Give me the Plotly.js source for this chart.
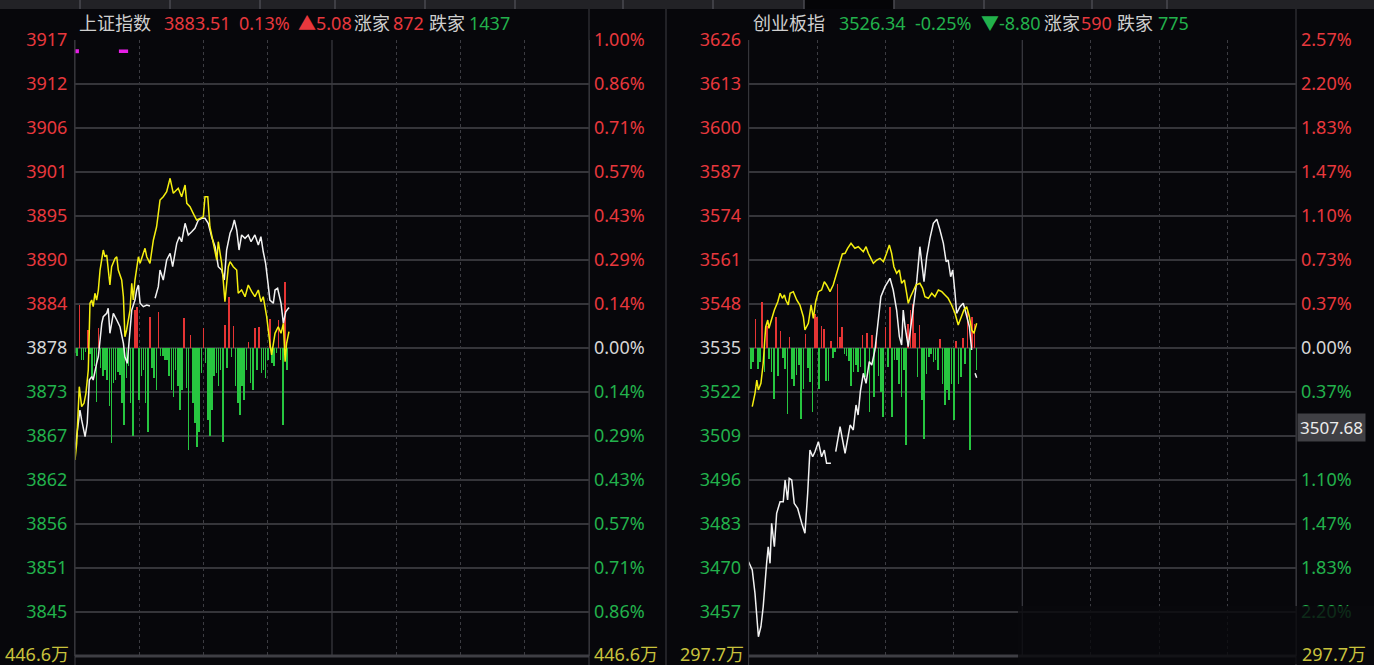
<!DOCTYPE html>
<html><head><meta charset="utf-8">
<script src="https://cdn.plot.ly/plotly-3.0.1.min.js"></script>
<style>html,body{margin:0;padding:0;background:#07070b;overflow:hidden}#chart{width:1374px;height:665px}</style>
</head><body><div id="chart"></div>
<script>
// ---------- data ----------
const leftName = '上证指数', rightName = '创业板指';
const leftPrevClose = 3878.43, rightPrevClose = 3535.14;
const leftLast = 3883.51, rightLast = 3526.34;
const leftMaxPct = 1.00, rightMaxPct = 2.57;
const leftTickLabels = ['3917','3912','3906','3901','3895','3890','3884','3878','3873','3867','3862','3856','3851','3845'];
const leftPctLabels = ['1.00%','0.86%','0.71%','0.57%','0.43%','0.29%','0.14%','0.00%','0.14%','0.29%','0.43%','0.57%','0.71%','0.86%'];
const rightTickLabels = ['3626','3613','3600','3587','3574','3561','3548','3535','3522','3509','3496','3483','3470','3457'];
// the 0.73% label below zero is hidden under the cursor price box in the reference
const rightPctLabels = ['2.57%','2.20%','1.83%','1.47%','1.10%','0.73%','0.37%','0.00%','0.37%','','1.10%','1.47%','1.83%','2.20%'];
const leftVolLabel = '446.6万', rightVolLabel = '297.7万';
const cursorLabel = '3507.68';

const leftWhiteT = [0,1.2,2.3,3.1,4.7,5.7,6.7,7.8,8.5,10.1,10.9,12.5,13.2,14.8,15.5,16.3,17.9,19.5,21.0,22.6,23.3,24.4,25.7,26.5,28.0,28.8,29.6,30.4,31.9,33.5,35.0,36.2,37.4,38.9,39.7,41.2,42.8,44.4,45.6,47.5,48.7,49.8,51.4,52.9,54.5,56.0,57.6,59.2,60.7,62.2,63.8,65.4,66.9,68.5,69.7,70.8,72.4,73.4,74.4,75.5,76.6,77.8,79.4,80.9,82.2,84.0,85.6,86.8,87.9,89.0,90.3,91.0,92.6,93.4,94.6,96.2,97.3,98.4,99.6,100];
const leftWhiteV = [3865.59,3868.11,3870.62,3869.37,3867.26,3868.95,3874.40,3874.82,3874.40,3876.50,3877.33,3881.54,3882.37,3882.80,3883.43,3880.28,3882.80,3881.96,3881.11,3879.02,3877.33,3876.50,3880.28,3883.21,3884.47,3885.73,3886.36,3884.06,3883.63,3883.84,3883.72,null,3884.69,3886.15,3888.25,3886.99,3889.51,3890.35,3888.67,3891.61,3892.44,3891.81,3894.13,3892.66,3893.07,3893.50,3894.55,3894.76,3894.76,3894.13,3892.44,3891.18,3888.67,3888.25,3886.99,3890.77,3892.87,3893.50,3894.55,3893.29,3890.77,3892.66,3892.24,3892.66,3891.81,3892.66,3891.40,3892.44,3890.55,3889.09,3886.15,3884.47,3884.06,3885.73,3885.95,3884.06,3881.54,3883.00,3883.43,3883.51];
const leftYellowT = [0,0.8,2.0,3.1,4.2,5.1,6.2,7.0,7.8,8.5,9.3,10.1,10.9,11.7,13.2,14.0,14.8,15.5,16.3,17.1,18.7,19.5,20.2,21.8,22.6,23.3,24.1,25.7,26.5,27.2,28.0,29.6,30.4,31.9,32.7,33.5,35.0,36.6,38.1,39.7,41.2,42.8,44.4,45.9,47.5,48.2,49.8,51.4,52.2,53.7,55.2,56.8,58.4,59.9,60.7,62.0,63.0,64.6,66.2,66.9,68.5,69.2,70.0,71.6,72.4,73.9,75.5,76.2,77.8,79.4,80.9,82.5,84.0,85.6,86.8,87.9,89.5,91.0,91.8,93.4,94.9,96.2,97.3,98.1,98.8,99.9];
const leftYellowV = [3864.33,3866.43,3873.56,3871.04,3871.47,3872.73,3875.66,3884.06,3884.47,3883.63,3885.32,3884.47,3885.73,3888.25,3890.77,3889.92,3890.14,3888.25,3886.36,3888.67,3889.72,3889.92,3888.25,3886.99,3884.89,3879.85,3880.70,3883.21,3886.58,3884.47,3886.99,3889.92,3889.09,3890.35,3890.98,3889.92,3889.09,3892.03,3893.70,3897.06,3897.48,3898.11,3899.80,3897.91,3898.32,3898.54,3897.48,3898.95,3896.65,3896.22,3895.39,3894.55,3894.76,3894.96,3897.48,3897.48,3893.70,3891.61,3889.51,3891.81,3889.09,3886.99,3884.26,3888.67,3889.30,3888.67,3888.25,3885.32,3885.73,3884.89,3886.36,3885.52,3884.89,3885.73,3884.26,3884.89,3882.37,3879.02,3877.55,3880.28,3881.11,3880.28,3881.54,3876.71,3879.02,3880.48];
const leftBars = [-0.63,-1.01,5.41,-1.51,-1.51,-0.50,2.27,-0.76,-3.65,-2.27,-6.80,2.52,-2.52,-3.53,-2.77,-4.03,-7.30,-11.96,-4.41,-4.03,-3.02,-3.40,-6.92,-9.69,-3.78,-2.27,-6.92,-11.08,4.78,5.16,-6.55,-3.53,-2.77,-6.92,-10.58,3.90,-2.52,-3.78,-5.29,4.53,-1.01,-1.01,-1.51,-1.51,-3.53,-5.29,-6.17,-2.77,-4.78,-7.81,-5.29,3.78,-5.04,-12.84,1.64,-6.92,-9.44,-12.46,-10.58,-3.15,2.52,-1.89,-9.06,-11.08,-7.81,-3.53,-3.15,-4.78,-2.77,-11.83,2.90,-2.52,6.42,-1.13,2.77,-4.78,-6.92,-8.44,-4.78,-6.55,-2.77,0.76,-4.41,-5.29,2.52,-2.77,2.64,-3.15,-2.77,-3.78,-1.51,3.65,-1.89,-2.27,-0.63,3.53,-1.51,-9.69,8.31,-2.77];

const rightWhiteT = [0,1.6,2.8,4.3,5.4,6.4,7.9,8.6,9.4,10.1,11.3,12.3,13.8,15.2,16.0,17.1,17.8,18.9,20.0,21.5,23.3,24.7,25.9,26.9,28.1,29.1,30.6,32.0,33.2,34.2,36.1,37.1,38.2,40.1,42.3,44.5,45.9,47.1,48.0,49.0,50.3,51.5,52.9,54.0,55.4,56.9,58.0,59.8,62.0,63.4,64.9,66.1,67.1,67.8,68.6,70.0,71.0,72.2,73.7,75.1,75.9,76.9,78.1,79.5,81.0,82.5,83.9,85.4,86.6,87.5,88.6,89.5,90.5,91.2,92.7,94.1,95.3,96.8,97.8,98.5,99.3,100.0];
const rightWhiteV = [3472.10,3469.65,3462.77,3449.97,3452.92,3458.82,3471.63,3476.52,3471.63,3483.43,3476.52,3486.38,3489.80,3489.80,3496.20,3490.30,3496.70,3496.20,3489.33,3487.85,3483.43,3480.48,3492.28,3505.05,3503.07,3504.55,3507.50,3503.07,3505.05,3501.13,3501.13,null,3504.55,3511.92,3504.08,3512.42,3510.95,3518.32,3515.37,3522.25,3527.68,3524.73,3531.10,3530.12,3534.55,3543.40,3550.27,3553.22,3555.70,3552.25,3546.35,3538.47,3536.03,3546.35,3541.42,3535.52,3540.45,3547.32,3554.70,3565.02,3561.10,3554.70,3562.07,3567.50,3571.93,3573.11,3569.95,3566.03,3560.60,3561.10,3556.17,3558.15,3551.28,3545.38,3547.32,3548.33,3545.38,3541.42,3534.55,null,3527.68,3526.34];
const rightYellowT = [1.6,2.8,3.6,4.3,5.4,6.4,7.5,8.4,8.9,10.1,11.3,12.8,13.8,14.8,15.7,16.3,17.4,18.2,19.6,21.1,22.5,24.0,24.7,26.2,27.4,28.4,29.4,30.6,32.0,33.2,34.2,35.7,37.1,38.6,40.1,41.1,42.3,43.4,44.9,46.6,48.1,50.3,51.5,52.5,54.7,56.2,57.6,59.1,60.5,61.7,62.7,63.7,64.9,66.1,67.1,68.3,69.3,70.0,71.0,72.2,73.4,75.1,76.3,77.3,78.8,80.3,81.7,83.2,84.7,86.1,87.5,89.0,90.5,91.9,93.4,94.4,95.6,96.8,97.8,98.8,100.0];
const rightYellowV = [3517.82,3521.78,3525.70,3522.75,3524.73,3530.63,3541.42,3543.40,3540.95,3543.90,3546.35,3548.80,3551.28,3549.80,3550.78,3549.30,3547.83,3551.28,3551.75,3549.30,3547.83,3544.37,3540.45,3542.43,3547.83,3543.90,3548.80,3551.75,3552.25,3554.70,3553.73,3551.75,3553.73,3557.18,3560.60,3562.87,3563.08,3564.55,3566.03,3564.55,3565.02,3563.55,3565.02,3563.08,3560.13,3561.10,3561.60,3560.60,3563.08,3565.53,3563.08,3559.12,3557.18,3558.15,3554.23,3555.20,3551.28,3548.33,3550.27,3552.25,3553.73,3554.23,3552.75,3550.27,3549.80,3551.28,3550.27,3552.25,3551.75,3550.78,3549.80,3547.83,3545.38,3541.93,3544.37,3546.35,3547.32,3544.37,3540.45,3539.48,3542.43];
const rightBars = [-2.36,-6.20,-4.13,8.56,-6.20,-4.13,13.57,-7.08,6.49,-3.25,-7.08,-15.05,9.15,-8.26,5.02,-2.95,-6.20,-19.47,3.25,-9.15,-11.21,-7.97,-5.02,-20.95,-12.10,4.13,-5.90,-10.03,-18.88,10.03,9.15,-12.10,6.49,5.61,-9.74,-9.74,2.07,-2.95,-1.18,18.88,3.25,6.20,-1.77,-2.36,-3.84,-11.21,-7.08,-5.02,-7.08,-5.61,3.84,-8.56,4.43,-18.88,3.84,-14.46,3.25,-8.26,-12.98,-20.36,6.20,-5.61,12.10,-20.36,-3.54,-3.54,-10.62,-14.46,-6.49,-28.62,7.08,11.21,12.98,4.43,-8.56,6.79,-15.34,-26.85,-7.67,-2.66,-1.77,-4.13,-3.54,-6.49,2.66,-10.62,-16.82,-12.39,-15.34,-10.62,-21.24,2.07,-10.62,-8.56,2.95,-4.72,11.21,-30.09,9.15,7.08,-6.49];

const markT = [0.9, 20.5, 24.8];
const markV = 3915.8;

const leftHeader = [['上证指数','gray',78],['3883.51','red',163],['0.13%','red',238],['▲5.08','red',297],['涨家','gray',353],['872','red',392],['跌家','gray',428],['1437','green',468]];
const rightHeader = [['创业板指','gray',752],['3526.34','green',838],['-0.25%','green',914],['▼-8.80','green',980],['涨家','gray',1043],['590','red',1080],['跌家','gray',1116],['775','green',1157]];

// ---------- style ----------
const W = 1374, H = 665;
const BG = '#07070b';
const C = {red:'#e8383d', green:'#22b14c', gray:'#cfcfcf', zero:'#d6d6d6', yellow:'#c8c23c'};
const BAR_RED = '#e53434', BAR_GREEN = '#27c640';
const GRID = '#35353a';
const FONT = '"Noto Sans", "Noto Sans CJK SC", sans-serif';
const px2x = p => p / W, px2y = p => 1 - p / H;

function ticks(prev, maxPct, labels) {
  const vals = [], texts = [];
  labels.forEach((lab, i) => {
    const k = 7 - i;
    vals.push(prev * (1 + k / 7 * maxPct / 100));
    const col = k > 0 ? C.red : (k < 0 ? C.green : C.zero);
    texts.push(lab ? '<span style="color:' + col + '">' + lab + '</span>' : '');
  });
  return {vals, texts};
}
const lt = ticks(leftPrevClose, leftMaxPct, leftTickLabels);
const lp = ticks(leftPrevClose, leftMaxPct, leftPctLabels);
const rt = ticks(rightPrevClose, rightMaxPct, rightTickLabels);
const rp = ticks(rightPrevClose, rightMaxPct, rightPctLabels);

const minutes = n => Array.from({length: n}, (_, i) => i);

function barTrace(vals, prev, xa, ya) {
  return {type:'bar', x: minutes(vals.length), y: vals, base: prev, width: 0.72,
    marker:{color: vals.map(v => v >= 0 ? BAR_RED : BAR_GREEN), line:{width:0}},
    xaxis: xa, yaxis: ya, hoverinfo:'skip', showlegend:false};
}
function lineTrace(t, v, color, xa, ya) {
  return {type:'scatter', mode:'lines', x: t, y: v, line:{color: color, width: 1.5},
    connectgaps:false, xaxis: xa, yaxis: ya, hoverinfo:'skip', showlegend:false};
}
// invisible anchor traces so the percentage axes get drawn
function pctAnchor(prev, xa, ya) {
  return {type:'scatter', mode:'markers', x:[0], y:[prev], marker:{opacity:0, size:1}, xaxis: xa, yaxis: ya, hoverinfo:'skip', showlegend:false};
}

const data = [
  pctAnchor(leftPrevClose, 'x', 'y2'),
  pctAnchor(rightPrevClose, 'x2', 'y4'),
  barTrace(leftBars, leftPrevClose, 'x', 'y'),
  lineTrace(leftWhiteT, leftWhiteV, '#f2f2f2', 'x', 'y'),
  lineTrace(leftYellowT, leftYellowV, '#f5ef0f', 'x', 'y'),
  barTrace(rightBars, rightPrevClose, 'x2', 'y3'),
  lineTrace(rightWhiteT, rightWhiteV, '#f2f2f2', 'x2', 'y3'),
  lineTrace(rightYellowT, rightYellowV, '#f5ef0f', 'x2', 'y3'),
  {type:'scatter', mode:'markers', x:[markT[0]], y:[markV], marker:{symbol:'square', size:4, color:'#e61ee6'}, xaxis:'x', yaxis:'y', hoverinfo:'skip', showlegend:false},
  {type:'scatter', mode:'lines', x:[markT[1], markT[2]], y:[markV, markV], line:{color:'#e61ee6', width:3.5}, xaxis:'x', yaxis:'y', hoverinfo:'skip', showlegend:false}
];

const tickFont = {family: FONT, size: 18, color: C.gray};
function xAxis(domain, anchor) {
  return {domain: domain, anchor: anchor, range:[0,240], tickvals:[30,60,90,150,180,210], showticklabels:false,
    showgrid:true, gridcolor:'#3c3c42', griddash:'dot', gridwidth:1, zeroline:false, showline:false, fixedrange:true};
}
function yLeft(domain, prev, maxPct, t, anchor) {
  return {domain: domain, anchor: anchor, range:[prev*(1-maxPct/100), prev*(1+maxPct/100)],
    tickvals: t.vals, ticktext: t.texts, tickfont: tickFont, ticks:'', ticklabelstandoff: 3,
    showgrid:true, gridcolor: GRID, gridwidth:1.2, zeroline:false,
    showline:true, mirror:true, linecolor: GRID, linewidth:1, fixedrange:true};
}
function yRight(over, prev, maxPct, t, anchor) {
  return {overlaying: over, side:'right', anchor: anchor, range:[prev*(1-maxPct/100), prev*(1+maxPct/100)],
    tickvals: t.vals, ticktext: t.texts, tickfont: tickFont, ticks:'', ticklabelstandoff: 4,
    showgrid:false, zeroline:false, showline:false, fixedrange:true};
}
const yDom = [px2y(656), px2y(40)];

const shapes = [];
// top tab strip
shapes.push({type:'rect', xref:'paper', yref:'paper', x0:0, x1:1, y0:px2y(9), y1:1, fillcolor:'#222226', line:{width:0}, layer:'above'});
shapes.push({type:'rect', xref:'paper', yref:'paper', x0:px2x(804), x1:px2x(894), y0:px2y(9), y1:1, fillcolor:'#050507', line:{width:0}, layer:'above'});
[80,170,260,335,425,515,623,713,804,894,984,1092,1167].forEach(p => shapes.push({type:'line', xref:'paper', yref:'paper', x0:px2x(p), x1:px2x(p), y0:px2y(9), y1:1, line:{color:'#4a4a50', width:1.5}, layer:'above'}));
// panel separator
shapes.push({type:'line', xref:'paper', yref:'paper', x0:px2x(666), x1:px2x(666), y0:0, y1:px2y(9), line:{color:'#2c2c32', width:1.5}});
// panel borders extended
['x','x2'].forEach(xa => {
  shapes.push({type:'line', xref: xa + ' domain', yref:'paper', x0:1, x1:1, y0:0, y1:px2y(9), line:{color: GRID, width:1.2}});
  shapes.push({type:'line', xref: xa + ' domain', yref:'paper', x0:0, x1:0, y0:0, y1:px2y(40), line:{color: GRID, width:1.2}});
});
// midday solid line and bottom separators
[['x','y'],['x2','y3']].forEach(([xa, ya]) => {
  shapes.push({type:'line', xref: xa, yref: ya + ' domain', x0:120, x1:120, y0:0, y1:1, line:{color:'#3c3c42', width:1.2}});
  shapes.push({type:'line', xref: xa + ' domain', yref: ya + ' domain', x0:0, x1:1, y0:0, y1:0, line:{color:'#3e3e44', width:3}});
});
// blurred watermark patch
shapes.push({type:'rect', xref:'paper', yref:'paper', x0:px2x(1018), x1:1, y0:px2y(664), y1:px2y(606), fillcolor:'#09090d', opacity:0.8, line:{width:0}, layer:'above'});

const annotations = [];
function headerAnn(items) {
  items.forEach(([txt, col, x]) => annotations.push({xref:'paper', yref:'paper', x:px2x(x), y:px2y(23), xanchor:'left', yanchor:'middle',
    text: txt, showarrow:false, font:{family: FONT, size:18, color: C[col]}, borderpad:0}));
}
headerAnn(leftHeader);
headerAnn(rightHeader);
[[leftVolLabel, 70, 'right'], [leftVolLabel, 593, 'left'], [rightVolLabel, 745, 'right'], [rightVolLabel, 1301, 'left']].forEach(([t, x, a]) =>
  annotations.push({xref:'paper', yref:'paper', x:px2x(x), y:px2y(654), xanchor:a, yanchor:'middle', text:t, showarrow:false,
    font:{family: FONT, size:18, color: C.yellow}, borderpad:0}));
annotations.push({xref:'paper', yref:'paper', x:px2x(1297), y:px2y(427), xanchor:'left', yanchor:'middle', text: cursorLabel, showarrow:false,
  font:{family: FONT, size:17, color:'#ececec'}, bgcolor:'#404045', borderpad:2});

const layout = {
  width: W, height: H, margin:{l:0, r:0, t:0, b:0},
  paper_bgcolor: BG, plot_bgcolor: BG, showlegend:false, bargap:0,
  xaxis: xAxis([px2x(75), px2x(589)], 'y'),
  yaxis: yLeft(yDom, leftPrevClose, leftMaxPct, lt, 'x'),
  yaxis2: yRight('y', leftPrevClose, leftMaxPct, lp, 'x'),
  xaxis2: xAxis([px2x(748.6), px2x(1296)], 'y3'),
  yaxis3: yLeft(yDom, rightPrevClose, rightMaxPct, rt, 'x2'),
  yaxis4: yRight('y3', rightPrevClose, rightMaxPct, rp, 'x2'),
  shapes: shapes, annotations: annotations
};

Plotly.newPlot('chart', data, layout, {staticPlot:true, displayModeBar:false});
</script></body></html>
